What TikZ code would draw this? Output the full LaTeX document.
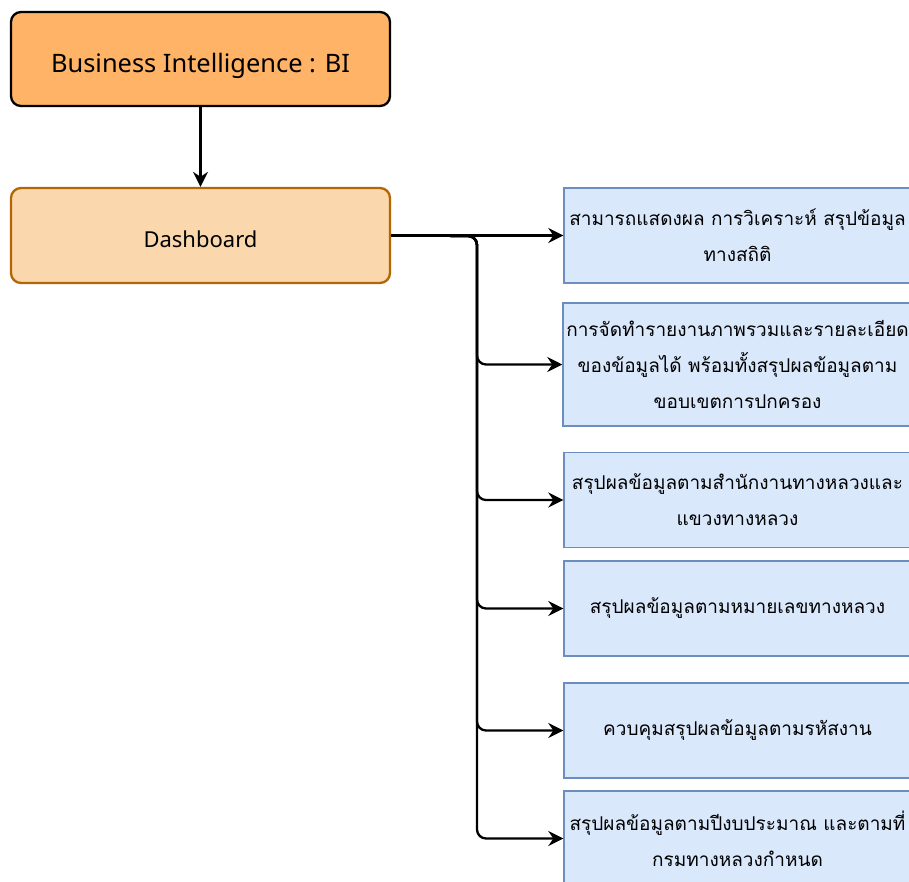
\documentclass[tikz,border=0pt]{standalone}
\usepackage{fontspec}
\setmainfont[Script=Thai]{Loma}
\newfontfamily\latinface{Noto Sans}
\usetikzlibrary{arrows.meta}
\definecolor{biFill}{HTML}{FFB366}
\definecolor{dashFill}{HTML}{FAD7AC}
\definecolor{dashLine}{HTML}{B46504}
\definecolor{itemFill}{HTML}{DAE8FC}
\definecolor{itemLine}{HTML}{6C8EBF}
\tikzset{
  x=1pt, y=-1pt,
  topbox/.style={draw=black, line width=2.3pt, fill=biFill, rounded corners=10pt,
    minimum width=379pt, minimum height=94pt, text depth=0pt,
    font=\latinface\fontsize{25.4}{30}\selectfont},
  dashbox/.style={draw=dashLine, line width=2.3pt, fill=dashFill, rounded corners=10pt,
    minimum width=379pt, minimum height=95pt, text depth=0pt,
    font=\latinface\fontsize{22}{26}\selectfont},
  itembox/.style={draw=itemLine, line width=1.4pt, fill=itemFill,
    minimum width=347pt, align=center, font=\fontsize{19}{36}\selectfont},
  link/.style={line width=2.3pt, -{Stealth[length=15pt,width=15pt,inset=5pt]}},
  branch/.style={link, rounded corners=9pt},
}
\begin{document}
\begin{tikzpicture}
\useasboundingbox (0,0) rectangle (909,881);
\clip (0,0) rectangle (909,881);
\fill[white] (0,0) rectangle (909,881);

\node[topbox] (bi) at (200.5,59) {\raisebox{-7pt}{Business Intelligence : BI}};
\node[dashbox] (dash) at (200.5,235.5) {\raisebox{-6.5pt}{Dashboard}};

\node[itembox, minimum height=95pt] (i1) at (737.5,235.5)
  {สามารถแสดงผล การวิเคราะห์ สรุปข้อมูล\\ทางสถิติ};
\node[itembox, minimum height=123pt] (i2) at (737.5,364.5)
  {การจัดทำรายงานภาพรวมและรายละเอียด\\ของข้อมูลได้ พร้อมทั้งสรุปผลข้อมูลตาม\\ขอบเขตการปกครอง};
\node[itembox, minimum height=95pt] (i3) at (737.5,500)
  {สรุปผลข้อมูลตามสำนักงานทางหลวงและ\\แขวงทางหลวง};
\node[itembox, minimum height=95pt] (i4) at (737.5,608.5)
  {สรุปผลข้อมูลตามหมายเลขทางหลวง};
\node[itembox, minimum height=95pt] (i5) at (737.5,730.5)
  {ควบคุมสรุปผลข้อมูลตามรหัสงาน};
\node[itembox, minimum height=95pt] (i6) at (737.5,838.5)
  {สรุปผลข้อมูลตามปีงบประมาณ และตามที่\\กรมทางหลวงกำหนด};

\draw[link] (bi) -- (dash);
\coordinate (trunk) at (477,236);
\draw[link] (dash.east) -- (i1.west);
\foreach \t in {i2,i3,i4,i5,i6}
  \draw[branch] (dash.east) -- (trunk) |- (\t.west);
\end{tikzpicture}
\end{document}
